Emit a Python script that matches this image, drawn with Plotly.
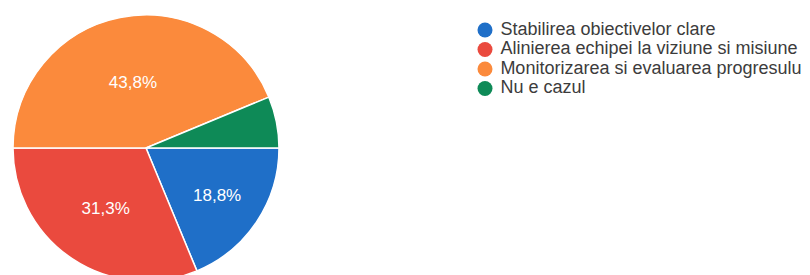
import plotly.graph_objects as go
from decimal import Decimal, ROUND_HALF_UP

categories = [
    "Stabilirea obiectivelor clare",
    "Alinierea echipei la viziune si misiune",
    "Monitorizarea si evaluarea progresului",
    "Nu e cazul",
]
counts = [3, 5, 7, 1]
colors = ["#1f6fc8", "#ea4a3e", "#fb8a3c", "#0e8a57"]

total = sum(counts)


def pct_label(c):
    p = (Decimal(c) * 100 / Decimal(total)).quantize(Decimal("0.1"), rounding=ROUND_HALF_UP)
    return str(p).replace(".", ",") + "%"


labels_pct = [pct_label(c) if c / total >= 0.1 else "" for c in counts]

W, H = 802, 282  # page body has an 8px margin


def px(v):
    return v / W


def py(v):
    return 1 - v / H


fig = go.Figure()
fig.add_trace(go.Pie(
    labels=categories,
    values=counts,
    text=labels_pct,
    textinfo="text",
    textposition="inside",
    insidetextorientation="horizontal",
    textfont=dict(family="Liberation Sans, Arial", size=17, color="white"),
    marker=dict(colors=colors, line=dict(color="white", width=1.5)),
    sort=False,
    direction="clockwise",
    rotation=90,
    showlegend=False,
    hoverinfo="label+percent",
    domain=dict(x=[px(5), px(271)], y=[py(273), py(7)]),
))

# legend drawn as circle markers on a hidden categorical axis
fig.add_trace(go.Scatter(
    x=[0] * len(categories),
    y=categories,
    mode="markers+text",
    text=["\u00a0" + c for c in categories],
    textposition="middle right",
    textfont=dict(family="Liberation Sans, Arial", size=18, color="#3c3c3c"),
    marker=dict(symbol="circle", size=15, color=colors),
    cliponaxis=False,
    showlegend=False,
    hoverinfo="skip",
))

fig.update_layout(
    width=W, height=H,
    margin=dict(l=0, r=0, t=0, b=0),
    paper_bgcolor="white", plot_bgcolor="rgba(0,0,0,0)",
    xaxis=dict(visible=False, domain=[px(470), px(484)], range=[-1, 1], fixedrange=True),
    yaxis=dict(visible=False, type="category", categoryorder="array", categoryarray=categories,
               domain=[py(90.25), py(12.25)], range=[3.5, -0.5], fixedrange=True),
    showlegend=False,
)

fig.write_html("out.html")
